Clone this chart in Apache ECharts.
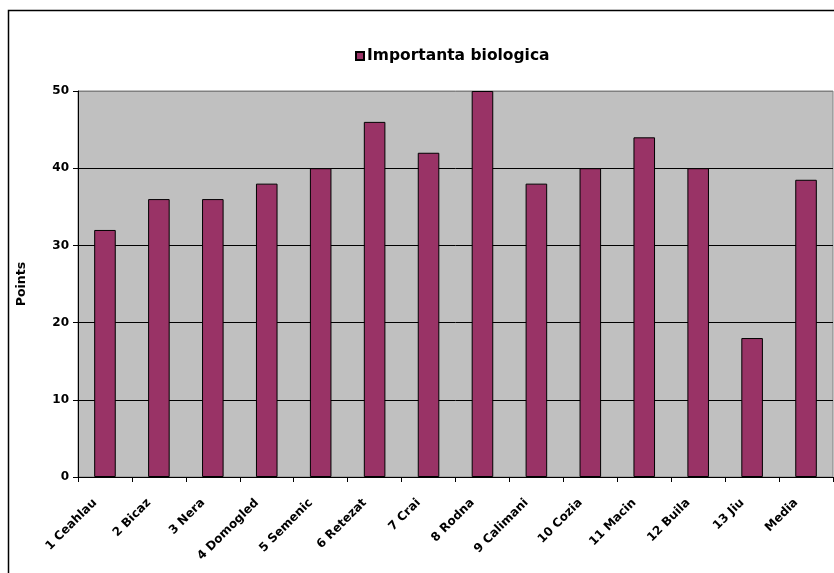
<!DOCTYPE html>
<html><head><meta charset="utf-8">
<script src="https://cdn.jsdelivr.net/npm/echarts@6/dist/echarts.min.js"></script>
<style>html,body{margin:0;padding:0;background:#fff}#c{width:834px;height:573px}</style>
</head><body><div id="c"></div>
<script>
const categories = ['1 Ceahlau','2 Bicaz','3 Nera','4 Domogled','5 Semenic','6 Retezat','7 Crai','8 Rodna','9 Calimani','10 Cozia','11 Macin','12 Buila','13 Jiu','Media'];
const values = [32, 36, 36, 38, 40, 46, 42, 50, 38, 40, 44, 40, 18, 38.5];
const seriesName = 'Importanta biologica';
const yTicks = {min: 0, max: 50, interval: 10};

const chart = echarts.init(document.getElementById('c'), null, {renderer: 'canvas'});
const font = '"DejaVu Sans", Verdana, sans-serif';
chart.setOption({
  animation: false,
  backgroundColor: '#fff',
  graphic: [{type: 'rect', shape: {x: 8.5, y: 10.5, width: 900, height: 700}, style: {fill: 'none', stroke: '#000', lineWidth: 1.5}, z: -10}],
  legend: {
    top: 43, left: 350, icon: 'rect', itemWidth: 8, itemHeight: 8, itemGap: 5,
    textStyle: {fontFamily: font, fontWeight: 'bold', fontSize: 15.5, color: '#000', padding: [0, 0, 0, -2]},
    data: [seriesName]
  },
  grid: {left: 78, top: 91, right: 1, bottom: 96, show: true, backgroundColor: '#C0C0C0', borderColor: '#808080', borderWidth: 1},
  xAxis: {
    type: 'category', data: categories,
    axisLine: {lineStyle: {color: '#000', width: 1}},
    axisTick: {show: true, interval: 0, length: 5, lineStyle: {color: '#000'}},
    axisLabel: {interval: 0, rotate: 45, margin: 14, padding: [0, 14, 0, 0], fontFamily: font, fontWeight: 'bold', fontSize: 12, color: '#000'}
  },
  yAxis: {
    type: 'value', min: yTicks.min, max: yTicks.max, interval: yTicks.interval,
    name: 'Points', nameLocation: 'middle', nameGap: 50, nameRotate: 90,
    nameTextStyle: {fontFamily: font, fontWeight: 'bold', fontSize: 12.5, color: '#000'},
    axisLine: {show: true, lineStyle: {color: '#000'}},
    axisTick: {show: true, length: 5, lineStyle: {color: '#000'}},
    axisLabel: {margin: 9, fontFamily: font, fontWeight: 'bold', fontSize: 12, color: '#000'},
    splitLine: {show: true, lineStyle: {color: ['#000','#000','#000','#000','#000','#808080'], width: 1}}
  },
  series: [{
    name: seriesName, type: 'bar', data: values, barWidth: '40%',
    itemStyle: {color: '#993366', borderColor: '#000', borderWidth: 1}
  }]
});
</script></body></html>
